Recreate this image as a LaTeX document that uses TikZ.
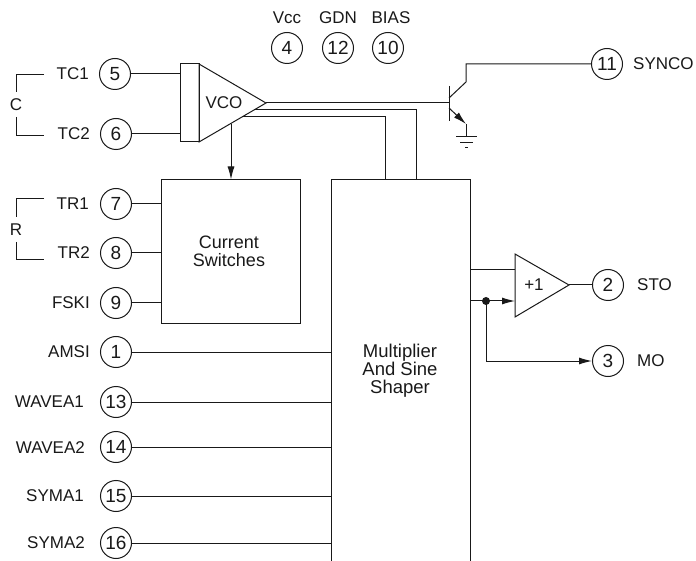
\documentclass[tikz,border=0pt]{standalone}
\usepackage{fontspec}
\setmainfont{Liberation Sans}
\usetikzlibrary{arrows.meta}
\tikzset{
 pin/.style={draw=black!90,circle,minimum size=31pt,inner sep=0pt,line width=1pt,font=\fontsize{19}{21}\selectfont,text=black!90},
 lbl/.style={inner sep=0pt,font=\fontsize{17}{18}\selectfont,text=black!90},
 wire/.style={line width=1pt,draw=black!90},
 arr/.style={wire,-{Latex[length=13pt,width=7pt]}}
}
\begin{document}
\begin{tikzpicture}[x=1pt,y=-1pt]
\useasboundingbox (0,0) rectangle (696,561);
\node[pin] (p5) at (115,74) {5};
\node[pin] (p6) at (116,134) {6};
\node[pin] (p4) at (287,48) {4};
\node[pin] (p12) at (338,48) {12};
\node[pin] (p10) at (388,48) {10};
\node[pin] (p11) at (607,64) {11};
\node[pin] (p7) at (116,204) {7};
\node[pin] (p8) at (116,253) {8};
\node[pin] (p9) at (116,303) {9};
\node[pin] (p1) at (116,352) {1};
\node[pin] (p13) at (116,402) {13};
\node[pin] (p14) at (116,447) {14};
\node[pin] (p15) at (116,496) {15};
\node[pin] (p16) at (116,543) {16};
\node[pin] (p2) at (608,285) {2};
\node[pin] (p3) at (608,361) {3};
\node[lbl] (lvcc) at (287,18) {Vcc};
\node[lbl] (lgdn) at (338,18) {GDN};
\node[lbl] (lbias) at (391,18) {BIAS};
\node[lbl,anchor=east] (ltc1) at (89,74) {TC1};
\node[lbl,anchor=east] (ltc2) at (90,134) {TC2};
\node[lbl,anchor=east] (ltr1) at (89,204) {TR1};
\node[lbl,anchor=east] (ltr2) at (90,253) {TR2};
\node[lbl,anchor=east] (lfski) at (90,303) {FSKI};
\node[lbl,anchor=east] (lamsi) at (90,352) {AMSI};
\node[lbl,anchor=east] (lw1) at (84,402) {WAVEA1};
\node[lbl,anchor=east] (lw2) at (85,448) {WAVEA2};
\node[lbl,anchor=east] (ls1) at (84,496) {SYMA1};
\node[lbl,anchor=east] (ls2) at (85,543) {SYMA2};
\node[lbl,anchor=west] (lsync) at (633,64) {SYNCO};
\node[lbl,anchor=west] (lsto) at (637,285) {STO};
\node[lbl,anchor=west] (lmo) at (637,361) {MO};
\node[lbl] (lc) at (16,105) {C};
\node[lbl] (lr) at (16,230) {R};
\draw[wire] (44,75)--(16,75)--(16,92);
\draw[wire] (16,117)--(16,136)--(44,136);
\draw[wire] (44,199)--(16,199)--(16,217);
\draw[wire] (16,242)--(16,260)--(44,260);
\node[wire,draw,minimum width=19pt,minimum height=78pt,inner sep=0pt] (gate) at (189.5,103) {};
\draw[wire] (199,64)--(199,142)--(266,103)--cycle;
\node[lbl] (lvco) at (224,103) {VCO};
\coordinate (vout) at (266,103);
\coordinate (vb) at (231,124);
\node[wire,draw,minimum width=139pt,minimum height=143pt,inner sep=0pt] (cs) at (230.5,251.5) {};
\node[lbl,align=center,font=\fontsize{18}{18}\selectfont] (lcs) at (229,251) {Current\\Switches};
\draw[wire] (p5)--(p5-|gate.west);
\draw[wire] (p6)--(p6-|gate.west);
\draw[arr] (vb)--(vb|-cs.north);
\draw[wire] (p7)--(p7-|cs.west);
\draw[wire] (p8)--(p8-|cs.west);
\draw[wire] (p9)--(p9-|cs.west);
% multiplier
\coordinate (mtl) at (331,180);
\coordinate (mtr) at (470,180);
\draw[wire] (331,561)--(mtl)--(mtr)--(470,561);
\node[lbl,align=center,font=\fontsize{18.5}{18}\selectfont] (lm) at (400,371) {Multiplier\\And Sine\\Shaper};
\foreach \n in {1,13,14,15,16} \draw[wire] (p\n)--(331,0|-p\n);
\draw[wire] (242,117)--(385,117)--(385,180);
\draw[wire] (254,110)--(416,110)--(416,180);
% transistor
\coordinate (tb) at (449,103);
\draw[wire] (vout)--(tb);
\draw[wire] (449,86)--(449,121);
\draw[wire] (449,98)--(466,82)--(466,64)--(p11);
\draw[wire,-{Latex[length=13pt,width=7pt]}] (449,108)--(466,124);
\draw[wire] (466,124)--(466,137);
\draw[wire] (456,137)--(477,137);
\draw[wire] (460,143)--(473,143);
\draw[wire] (465,148)--(468,148);
% buffer
\draw[wire] (515,254)--(515,317)--(569,285)--cycle;
\node[lbl] (lp1) at (534,285) {+1};
\draw[wire] (569,285)--(p2);
\draw[wire] (470,270)--(515,270);
\draw[arr] (470,301)--(515,301);
\fill[black!90] (486,301) circle (4pt);
\draw[arr] (486,301)--(486,361)--(p3);
\end{tikzpicture}
\end{document}
